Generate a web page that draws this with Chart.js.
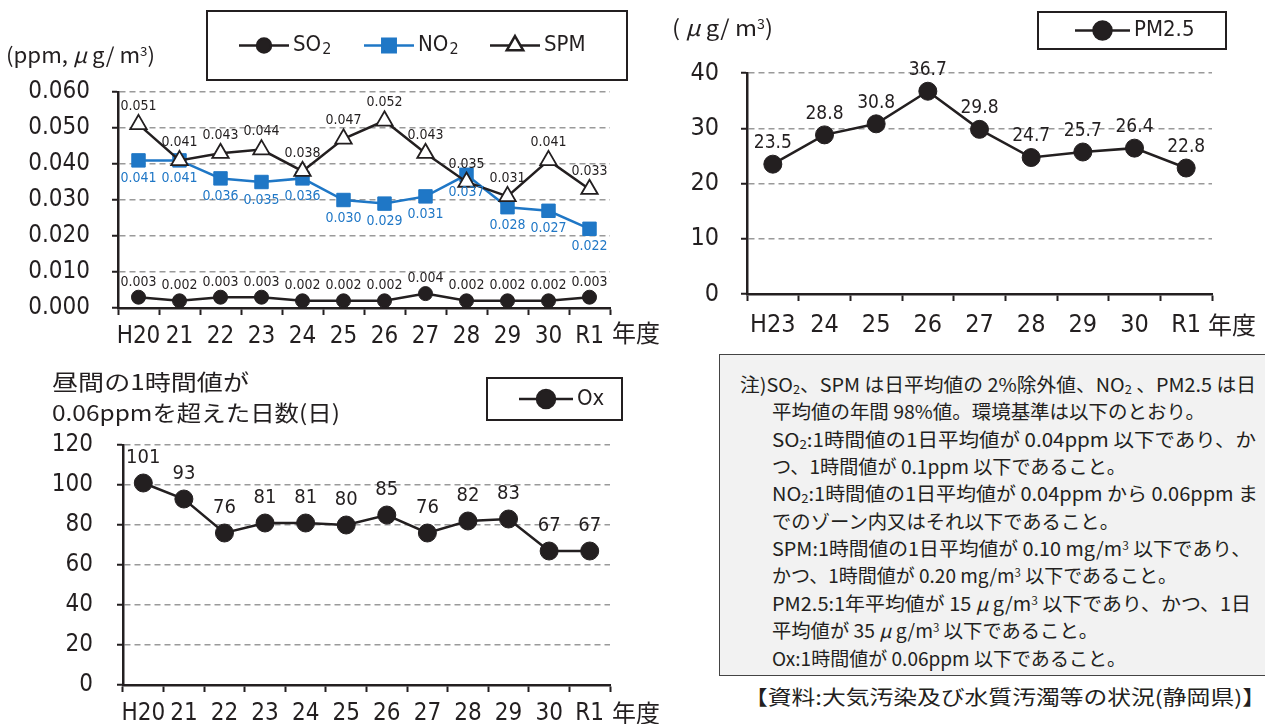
<!DOCTYPE html>
<html>
<head>
<meta charset="utf-8">
<script src="https://cdn.jsdelivr.net/npm/chart.js@4.4.0/dist/chart.umd.min.js"></script>
<style>
  body { margin: 0; width: 1265px; height: 724px; overflow: hidden; position: relative; background: #fff;
         font-family: "Liberation Sans Narrow", "Noto Sans CJK JP", sans-serif; color: #231f20; }
  canvas { position: absolute; }
  .t { position: absolute; white-space: nowrap; line-height: 1; transform-origin: 0 50%; }
  .nendo { font-family: "Noto Sans CJK JP", sans-serif; font-size: 24px; }
  #note { position: absolute; left: 719px; top: 354px; width: 560px; height: 322px; box-sizing: border-box;
          background: #f2f2f2; border: 1.5px solid #444; }
  #note .t { font-size: 19px; }
  sub { font-size: 0.65em; vertical-align: -0.15em; }
  sup { font-size: 0.6em; vertical-align: 0.55em; }
</style>
</head>
<body>
<canvas id="c1" width="665" height="350" style="left:0;top:0;width:665px;height:350px"></canvas>
<canvas id="c2" width="605" height="345" style="left:660px;top:0;width:605px;height:345px"></canvas>
<canvas id="c3" width="665" height="364" style="left:0;top:360px;width:665px;height:364px"></canvas>

<div class="t" data-w="149" style="left:6px;top:44px;font-size:21px">(ppm, <i>μ</i> g/ m<sup>3</sup>)</div>
<div class="t nendo" style="left:612px;top:320px">年度</div>

<div class="t" data-w="101" style="left:672px;top:15px;font-size:22px">( <i>μ</i> g/ m<sup>3</sup>)</div>
<div class="t nendo" style="left:1208px;top:312px">年度</div>

<div class="t" data-w="197" style="left:52px;top:369px;font-size:22px;font-family:'Noto Sans CJK JP'">昼間の1時間値が</div>
<div class="t" data-w="288" style="left:52px;top:400px;font-size:22px;font-family:'Noto Sans CJK JP'">0.06ppmを超えた日数(日)</div>
<div class="t nendo" style="left:612px;top:700px">年度</div>

<div id="note">
  <div class="t" data-w="516" style="left:20px;top:19px">注)SO<sub>2</sub>、SPM は日平均値の 2%除外値、NO<sub>2</sub> 、PM2.5 は日</div>
  <div class="t" data-w="433" style="left:52px;top:46px">平均値の年間 98%値。環境基準は以下のとおり。</div>
  <div class="t" data-w="484" style="left:52px;top:74px">SO<sub>2</sub>:1時間値の1日平均値が 0.04ppm 以下であり、か</div>
  <div class="t" data-w="354" style="left:52px;top:101px">つ、1時間値が 0.1ppm 以下であること。</div>
  <div class="t" data-w="486" style="left:52px;top:128px">NO<sub>2</sub>:1時間値の1日平均値が 0.04ppm から 0.06ppm ま</div>
  <div class="t" data-w="347" style="left:52px;top:156px">でのゾーン内又はそれ以下であること。</div>
  <div class="t" data-w="479" style="left:52px;top:183px">SPM:1時間値の1日平均値が 0.10 mg/m<sup>3</sup> 以下であり、</div>
  <div class="t" data-w="405" style="left:52px;top:210px">かつ、1時間値が 0.20 mg/m<sup>3</sup> 以下であること。</div>
  <div class="t" data-w="479" style="left:52px;top:238px">PM2.5:1年平均値が 15 <i>μ</i> g/m<sup>3</sup> 以下であり、かつ、1日</div>
  <div class="t" data-w="326" style="left:52px;top:265px">平均値が 35 <i>μ</i> g/m<sup>3</sup> 以下であること。</div>
  <div class="t" data-w="354" style="left:52px;top:293px">Ox:1時間値が 0.06ppm 以下であること。</div>
</div>
<div class="t" data-w="522" style="left:744px;top:687px;font-size:20px;font-family:'Noto Sans CJK JP'">【資料:大気汚染及び水質汚濁等の状況(静岡県)】</div>

<script>
// air quality, fiscal years
const years1 = ['H20', '21', '22', '23', '24', '25', '26', '27', '28', '29', '30', 'R1'];
const so2 = [0.003, 0.002, 0.003, 0.003, 0.002, 0.002, 0.002, 0.004, 0.002, 0.002, 0.002, 0.003];
const no2 = [0.041, 0.041, 0.036, 0.035, 0.036, 0.030, 0.029, 0.031, 0.037, 0.028, 0.027, 0.022];
const spm = [0.051, 0.041, 0.043, 0.044, 0.038, 0.047, 0.052, 0.043, 0.035, 0.031, 0.041, 0.033];

const years2 = ['H23', '24', '25', '26', '27', '28', '29', '30', 'R1'];
const pm25 = [23.5, 28.8, 30.8, 36.7, 29.8, 24.7, 25.7, 26.4, 22.8];

const ox = [101, 93, 76, 81, 81, 80, 85, 76, 82, 83, 67, 67];

const INK = '#231f20';
const BLUE = '#1f77c6';
const NARROW = '"Liberation Sans Narrow", "DejaVu Sans Condensed", sans-serif';

// squeeze/stretch text lines to the widths they have in the source
function fitText() {
  document.querySelectorAll('[data-w]').forEach(el => {
    const w = el.getBoundingClientRect().width;
    if (w) el.style.transform = 'scaleX(' + (+el.dataset.w / w) + ')';
  });
}
fitText();
if (document.fonts) document.fonts.ready.then(() => { document.querySelectorAll('[data-w]').forEach(el => el.style.transform = ''); fitText(); });

// value labels next to each point
const pointLabels = {
  id: 'pointLabels',
  afterDatasetsDraw(chart) {
    const ctx = chart.ctx;
    chart.data.datasets.forEach((ds, i) => {
      const meta = chart.getDatasetMeta(i);
      ctx.save();
      ctx.font = ds.labelFont;
      ctx.fillStyle = ds.labelColor;
      ctx.textAlign = 'center';
      ctx.textBaseline = 'middle';
      meta.data.forEach((pt, j) => {
        ctx.fillText(ds.labelFormat(ds.data[j]), pt.x, pt.y + ds.labelOffset);
      });
      ctx.restore();
    });
  }
};

// framed legend with line + marker samples
function drawLabel(ctx, text, x, y, size) {
  const parts = text.split('_');
  ctx.font = size + 'px ' + NARROW;
  ctx.fillText(parts[0], x, y);
  if (parts[1]) {
    const w = ctx.measureText(parts[0]).width;
    ctx.font = Math.round(size * 0.72) + 'px ' + NARROW;
    ctx.fillText(parts[1], x + w + 1, y + size * 0.22);
  }
}

const boxLegend = {
  id: 'boxLegend',
  afterDraw(chart, args, opts) {
    const ctx = chart.ctx;
    ctx.save();
    ctx.strokeStyle = INK;
    ctx.lineWidth = 2;
    ctx.strokeRect(opts.x, opts.y, opts.w, opts.h);
    const cy = opts.y + opts.h / 2;
    chart.data.datasets.forEach((ds, i) => {
      const x = opts.items[i];
      ctx.strokeStyle = ds.borderColor;
      ctx.lineWidth = 2.5;
      ctx.beginPath();
      ctx.moveTo(x, cy);
      ctx.lineTo(x + opts.line, cy);
      ctx.stroke();
      ctx.fillStyle = ds.pointBackgroundColor;
      ctx.strokeStyle = ds.pointBorderColor;
      Chart.helpers.drawPoint(ctx, {
        pointStyle: ds.pointStyle, radius: ds.pointRadius, rotation: 0, borderWidth: ds.pointBorderWidth
      }, x + opts.line / 2, cy);
      ctx.fillStyle = INK;
      ctx.textAlign = 'left';
      ctx.textBaseline = 'middle';
      drawLabel(ctx, ds.label, x + opts.line + 4, cy, opts.font);
    });
    ctx.restore();
  }
};

function buildOptions(cfg) {
  return {
    responsive: false,
    animation: false,
    events: [],
    layout: { padding: cfg.padding },
    plugins: {
      legend: { display: false },
      tooltip: { enabled: false },
      boxLegend: cfg.legend
    },
    scales: {
      x: {
        offset: true,
        afterFit: s => { s.height = cfg.xHeight; },
        grid: { display: true, drawOnChartArea: false, offset: true, tickLength: 7, tickColor: INK, tickWidth: 2 },
        border: { display: true, color: INK, width: 2.5 },
        ticks: { color: INK, font: { family: NARROW, size: cfg.tickSize }, padding: cfg.xPad, maxRotation: 0, autoSkip: false }
      },
      y: {
        min: cfg.min,
        max: cfg.max,
        afterFit: s => { s.width = cfg.yWidth; },
        grid: {
          color: c => c.tick && c.tick.value === 0 ? 'rgba(0,0,0,0)' : '#9a9a9a',
          lineWidth: 1.5, tickLength: 6, tickColor: INK, tickWidth: 2
        },
        border: { display: true, color: INK, width: 2.5, dash: [6, 4] },
        ticks: {
          stepSize: cfg.step, color: INK, padding: cfg.yPad,
          font: { family: NARROW, size: cfg.tickSize },
          callback: cfg.yFormat
        }
      }
    }
  };
}

// chart 1: SO2, NO2, SPM
new Chart(document.getElementById('c1'), {
  type: 'line',
  data: {
    labels: years1,
    datasets: [
      {
        label: 'SO_2', data: so2, order: 2,
        borderColor: INK, borderWidth: 2.5,
        pointStyle: 'circle', pointRadius: 7, pointBackgroundColor: INK, pointBorderColor: INK, pointBorderWidth: 1,
        labelFont: '14px ' + NARROW, labelColor: INK, labelOffset: -15, labelFormat: v => v.toFixed(3)
      },
      {
        label: 'NO_2', data: no2, order: 1,
        borderColor: BLUE, borderWidth: 2.5,
        pointStyle: 'rect', pointRadius: 9.5, pointBackgroundColor: BLUE, pointBorderColor: BLUE, pointBorderWidth: 1,
        labelFont: '14px ' + NARROW, labelColor: BLUE, labelOffset: 18, labelFormat: v => v.toFixed(3)
      },
      {
        label: 'SPM', data: spm, order: 0,
        borderColor: INK, borderWidth: 2.5,
        pointStyle: 'triangle', pointRadius: 9.5, pointBackgroundColor: '#fff', pointBorderColor: INK, pointBorderWidth: 1.8,
        labelFont: '14px ' + NARROW, labelColor: INK, labelOffset: -18, labelFormat: v => v.toFixed(3)
      }
    ]
  },
  options: buildOptions({
    padding: { left: 0, top: 92, right: 55, bottom: 0 },
    xHeight: 42, yWidth: 118, yPad: 22, xPad: 7, tickSize: 24,
    min: 0, max: 0.06, step: 0.01, yFormat: v => v.toFixed(3),
    legend: { x: 207, y: 11, w: 420, h: 69, items: [239, 364, 490], line: 50, font: 22 }
  }),
  plugins: [pointLabels, boxLegend]
});

// chart 2: PM2.5
new Chart(document.getElementById('c2'), {
  type: 'line',
  data: {
    labels: years2,
    datasets: [{
      label: 'PM2.5', data: pm25,
      borderColor: INK, borderWidth: 2.5,
      pointStyle: 'circle', pointRadius: 9, pointBackgroundColor: INK, pointBorderColor: INK, pointBorderWidth: 1,
      labelFont: '19px ' + NARROW, labelColor: INK, labelOffset: -21, labelFormat: v => v.toFixed(1)
    }]
  },
  options: buildOptions({
    padding: { left: 0, top: 73, right: 53, bottom: 0 },
    xHeight: 51, yWidth: 87, yPad: 22, xPad: 9, tickSize: 25,
    min: 0, max: 40, step: 10, yFormat: v => v,
    legend: { x: 378, y: 12, w: 188, h: 37, items: [415], line: 55, font: 22 }
  }),
  plugins: [pointLabels, boxLegend]
});

// chart 3: Ox days
new Chart(document.getElementById('c3'), {
  type: 'line',
  data: {
    labels: years1,
    datasets: [{
      label: 'Ox', data: ox,
      borderColor: INK, borderWidth: 2.5,
      pointStyle: 'circle', pointRadius: 9, pointBackgroundColor: INK, pointBorderColor: INK, pointBorderWidth: 1,
      labelFont: '20px ' + NARROW, labelColor: INK, labelOffset: -25, labelFormat: v => String(v)
    }]
  },
  options: buildOptions({
    padding: { left: 0, top: 85, right: 55, bottom: 0 },
    xHeight: 39, yWidth: 123, yPad: 24, xPad: 7, tickSize: 24,
    min: 0, max: 120, step: 20, yFormat: v => v,
    legend: { x: 487, y: 18, w: 135, h: 42, items: [519], line: 54, font: 22 }
  }),
  plugins: [pointLabels, boxLegend]
});
</script>
</body>
</html>
